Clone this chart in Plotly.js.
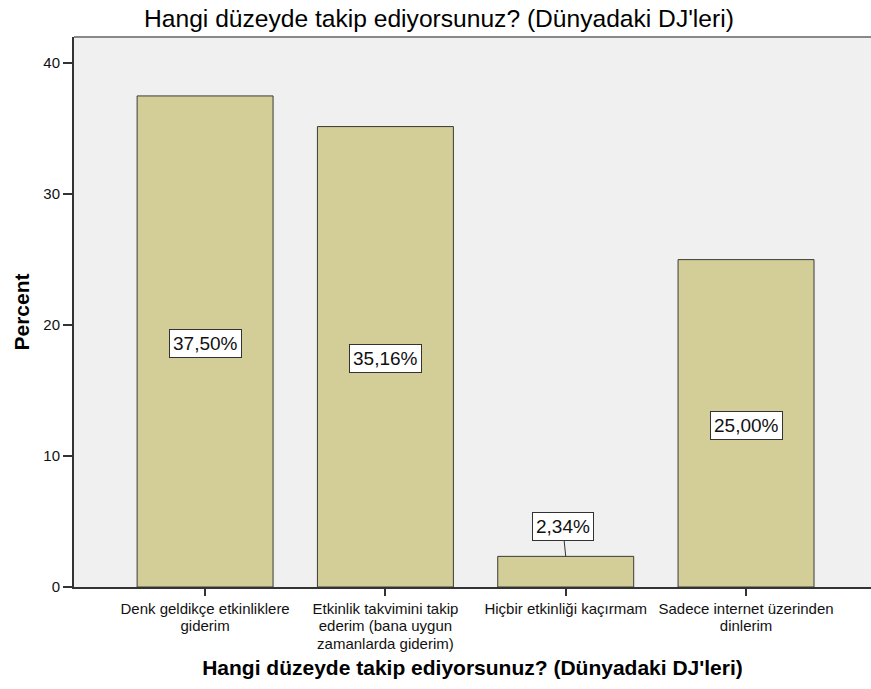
<!DOCTYPE html>
<html><head><meta charset="utf-8">
<script src="https://cdn.plot.ly/plotly-3.0.1.min.js"></script>
<style>html,body{margin:0;padding:0;background:#fff}#chart{width:871px;height:689px}</style>
</head><body><div id="chart"></div>
<script>
const categories = [
  "Denk geldikçe etkinliklere<br>giderim",
  "Etkinlik takvimini takip<br>ederim (bana uygun<br>zamanlarda giderim)",
  "Hiçbir etkinliği kaçırmam",
  "Sadece internet üzerinden<br>dinlerim"
];
const percents = [37.50, 35.16, 2.34, 25.00];
const valueLabels = ["37,50%", "35,16%", "2,34%", "25,00%"];
const yTicks = [0, 10, 20, 30, 40];
const titleText = "Hangi düzeyde takip ediyorsunuz? (Dünyadaki DJ'leri)";

const FONT = 'Liberation Sans, Arial, sans-serif';
const idx = categories.map((_, i) => i);
const trace = {
  type: 'bar',
  x: idx,
  y: percents,
  width: 0.754,
  marker: {color: '#d3ce97', line: {color: '#3a3a3a', width: 1}},
  hoverinfo: 'skip'
};

const annotations = percents.map((v, i) => {
  const small = v < 5;
  return {
    x: i, y: small ? v : v / 2, xref: 'x', yref: 'y',
    text: valueLabels[i],
    showarrow: small, arrowhead: 0, arrowwidth: 1, arrowcolor: '#333',
    ax: small ? -3 : 0, ay: small ? -30 : 0,
    yshift: small ? 0 : -2,
    bgcolor: '#ffffff', bordercolor: '#333', borderwidth: 1, borderpad: 3,
    font: {family: FONT, size: 19, color: '#111'}
  };
});

const layout = {
  width: 871, height: 689,
  margin: {l: 74, r: 0, t: 37, b: 102},
  paper_bgcolor: '#ffffff', plot_bgcolor: '#f0f0f0',
  showlegend: false,
  title: {text: titleText, x: 0.504, xanchor: 'center', y: 0.974, yanchor: 'middle',
    font: {family: FONT, size: 24.6, color: '#000'}},
  xaxis: {
    range: [-0.727, 3.693],
    tickvals: idx, ticktext: categories,
    ticks: 'outside', ticklen: 7, tickcolor: '#333', tickwidth: 2,
    showline: true, linecolor: '#333', linewidth: 2,
    showgrid: false, zeroline: false,
    tickfont: {family: FONT, size: 15, color: '#111'},
    title: {text: titleText, standoff: 0,
      font: {family: FONT, size: 21, color: '#000', weight: 'bold'}}
  },
  yaxis: {
    range: [0, 42],
    tickvals: yTicks,
    ticks: 'outside', ticklen: 9, tickcolor: '#333', tickwidth: 2,
    showline: true, linecolor: '#333', linewidth: 2,
    showgrid: false, zeroline: false,
    tickfont: {family: FONT, size: 15, color: '#111'},
    title: {text: 'Percent', standoff: 8,
      font: {family: FONT, size: 21, color: '#000', weight: 'bold'}}
  },
  shapes: [{type: 'line', xref: 'paper', yref: 'paper', x0: 0, x1: 1, y0: 1, y1: 1,
    line: {color: '#888', width: 2}}],
  annotations: annotations
};

Plotly.newPlot('chart', [trace], layout, {displayModeBar: false, staticPlot: true}).then(gd => {
  // slightly tighter line spacing for multi-line category labels
  gd.querySelectorAll('.xtick text tspan.line').forEach(t => {
    const dy = parseFloat(t.getAttribute('dy'));
    if (dy) t.setAttribute('dy', (dy / 1.3 * 1.15) + 'em');
  });
});
</script>
</body></html>
